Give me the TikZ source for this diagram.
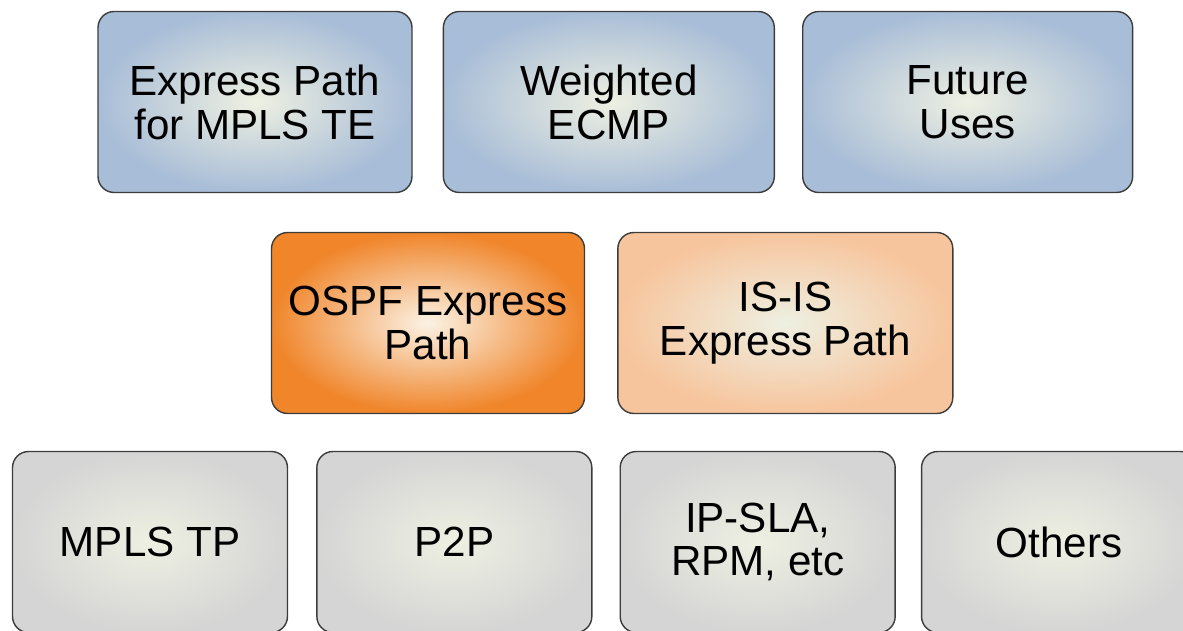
\documentclass[tikz,border=0pt]{standalone}
\usepackage{fontspec}
\setmainfont{Liberation Sans}
\usetikzlibrary{positioning}

\definecolor{glowcenter}{HTML}{EEF0E2}
\definecolor{blueedge}{HTML}{A8BDD7}
\definecolor{orangeedge}{HTML}{F0852A}
\definecolor{orangecenter}{HTML}{FBF2E4}
\definecolor{peachedge}{HTML}{F7C59D}
\definecolor{grayedge}{HTML}{D5D5D5}
\definecolor{boxline}{HTML}{3C3C3C}

\begin{document}
\begin{tikzpicture}[%
    x=0.02cm,
    y=-0.02cm,
    node distance=0.6cm,
    layer/.style={%
      rectangle,
      rounded corners=0.32cm,
      draw=boxline,
      line width=0.8pt,
      minimum height=3.62cm,
      align=center,
      font=\fontsize{24}{25}\selectfont,
      inner color=glowcenter
    },
    app/.style={layer, outer color=blueedge, minimum width=6.6cm},
    proto/.style={layer, outer color=peachedge, minimum width=6.7cm},
    transport/.style={layer, outer color=grayedge, minimum width=5.5cm}
  ]
    \clip (0,0) rectangle (1183,631);

    % applications
    \node[app, minimum width=6.28cm] (mplste) at (255,102) {Express Path\\for MPLS TE};
    \node[app, minimum width=6.62cm] (wecmp) [right=0.6cm of mplste] {Weighted\\ECMP};
    \node[app] (future) [right=0.54cm of wecmp] {Future\\Uses};

    % routing protocols
    \node[proto, minimum width=6.26cm, outer color=orangeedge, inner color=orangecenter]
      (ospf) at (428,323) {OSPF Express\\Path};
    \node[proto] (isis) [right=0.64cm of ospf] {IS-IS\\Express Path};

    % transports
    \node[transport] (mplstp) at (150,542) {MPLS TP};
    \node[transport] (p2p) [right=0.56cm of mplstp] {P2P};
    \node[transport] (ipsla) [right=0.54cm of p2p] {IP-SLA,\\RPM, etc};
    \node[transport] (others) [right=0.5cm of ipsla] {Others};
\end{tikzpicture}
\end{document}
